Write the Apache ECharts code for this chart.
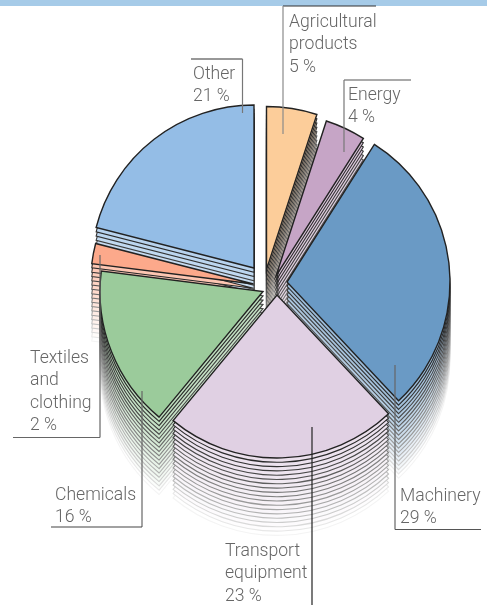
<!DOCTYPE html>
<html><head><meta charset="utf-8">
<style>html,body{margin:0;padding:0;background:#fff}#c{width:487px;height:605px}</style>
<script src="https://cdn.jsdelivr.net/npm/echarts@6/dist/echarts.min.js"></script>
</head><body><div id="c"></div>
<script>
// Data
const categories = ['Agricultural products','Energy','Machinery','Transport equipment','Chemicals','Textiles and clothing','Other'];
const shares = [5,4,29,23,16,2,21];
// Style and layout (separate from data)
const colors = ['#fccd9a','#c6a5c6','#6a9ac5','#e0d0e3','#9bcb9b','#fca98b','#94bde6'];
const centers = [[266.5,269.5],[276,276],[287,282],[277,295],[263,291.5],[253.5,284],[254,268]];
const drawOrder = [6,5,0,1,2,4,3];
const radius = 163, layers = 18, layerStep = 4.3;
const textFont = 'Roboto, "Liberation Sans", sans-serif', textColor = '#666666';
const labels = [
  {x:289,y:22.5,lines:['Agricultural','products','5 %']},
  {x:348,y:95.5,lines:['Energy','4 %']},
  {x:193,y:74.5,lines:['Other','21 %']},
  {x:400,y:496.5,lines:['Machinery','29 %']},
  {x:225,y:551.5,lines:['Transport','equipment','23 %']},
  {x:55,y:495.5,lines:['Chemicals','16 %']},
  {x:30,y:358.5,lines:['Textiles','and','clothing','2 %']}
];
const leaders = [
  [[283,6],[376,6],'#333'],[[283,6],[283,134],'#8a8a8a'],
  [[344,80],[411,80],'#555'],[[344,80],[344,152],'#777'],
  [[191,59],[242.5,59],'#333'],[[242.5,59],[242.5,113],'#777'],
  [[395,365],[395,529.5],'#666'],[[395,529.5],[481,529.5],'#555'],
  [[312,427],[312,605],'#222'],
  [[142,391],[142,527],'#666'],[[51,527],[142,527],'#444'],
  [[100,255],[100,437.5],'#666'],[[13,437.5],[100,437.5],'#666']
];
function mix(hex,t){
  const n=parseInt(hex.slice(1),16),r=n>>16,g=(n>>8)&255,b=n&255;
  const m=c=>Math.round(c+(255-c)*t);
  return `rgb(${m(r)},${m(g)},${m(b)})`;
}
const total = shares.reduce((a,b)=>a+b,0);
const starts = []; shares.reduce((acc,v,i)=>{starts[i]=acc;return acc+v;},0);
const series = [];
drawOrder.forEach(i=>{
  const start = 90 - starts[i]/total*360;
  for(let k=layers;k>=0;k--){
    const t = k/layers;
    const fade = k===0 ? 0 : Math.pow(t,1.15)*0.95;
    series.push({
      type:'pie', silent:true, animation:false, clockwise:true,
      radius:[0,radius], center:[centers[i][0],centers[i][1]+k*layerStep],
      startAngle:start, minAngle:0, avoidLabelOverlap:false,
      label:{show:false}, labelLine:{show:false}, emphasis:{disabled:true},
      data:[
        {name:categories[i],value:shares[i],
          itemStyle:{
            color:k===0?colors[i]:mix(colors[i],Math.min(1,0.3+t*0.7)),
            borderColor:mix('#222222',fade),
            borderWidth:k===0?1.4:1.1,borderJoin:'miter'}},
        {name:'rest',value:total-shares[i],itemStyle:{color:'rgba(0,0,0,0)',borderWidth:0}}
      ]
    });
  }
});
const graphics = [{type:'rect',shape:{x:0,y:0,width:487,height:6},style:{fill:'#a6cbe8'},z:200,silent:true}];
leaders.forEach(l=>graphics.push({type:'line',z:210,silent:true,
  shape:{x1:l[0][0],y1:l[0][1],x2:l[1][0],y2:l[1][1]},style:{stroke:l[2],lineWidth:1.2}}));
labels.forEach(b=>b.lines.forEach((s,j)=>graphics.push({type:'text',z:220,silent:true,
  style:{x:b.x,y:b.y+j*22.4,text:s,fill:textColor,font:'300 17.6px '+textFont,verticalAlign:'middle'}})));
const chart = echarts.init(document.getElementById('c'),null,{renderer:'canvas'});
chart.setOption({animation:false,backgroundColor:'#fff',legend:{show:false},tooltip:{show:false},series,graphic:{elements:graphics}});
</script></body></html>
